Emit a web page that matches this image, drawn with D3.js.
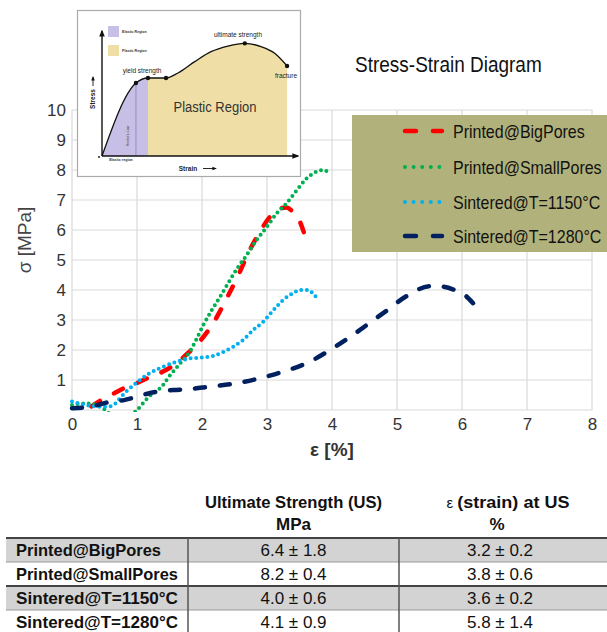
<!DOCTYPE html>
<html>
<head>
<meta charset="utf-8">
<script src="https://cdn.jsdelivr.net/npm/d3@7"></script>
<style>
  body { margin: 0; background: #fff; }
  text { font-family: "Liberation Sans", Arial, sans-serif; }
</style>
</head>
<body>
<div class="chart"></div>
<script>
// data: [strain %, stress MPa]
const seriesNames = ["Printed@BigPores", "Printed@SmallPores", "Sintered@T=1150°C", "Sintered@T=1280°C"];
const bigPores = [[0.3,0.12],[0.45,0.33],[0.6,0.5],[0.8,0.73],[1.0,0.9],[1.2,1.1],[1.4,1.28],[1.6,1.55],
  [1.76,1.85],[1.97,2.3],[2.17,2.89],[2.38,3.72],[2.56,4.5],[2.71,5.22],[2.89,5.94],[3.05,6.45],
  [3.2,6.72],[3.3,6.75],[3.4,6.6],[3.48,6.4],[3.6,5.7]];
const smallPores = [[0,0.17],[0.2,0.22],[0.35,0.18],[0.45,0.08],[0.52,0],[0.6,-0.15],[0.9,-0.15],[1.0,0],
  [1.09,0.22],[1.18,0.44],[1.29,0.61],[1.4,0.83],[1.49,1.11],[1.6,1.39],[1.7,1.65],[1.8,1.9],[1.9,2.3],
  [2.02,2.83],[2.15,3.33],[2.28,3.78],[2.43,4.33],[2.56,4.78],[2.69,5.17],[2.84,5.67],[3.0,6.11],
  [3.15,6.56],[3.3,6.89],[3.46,7.33],[3.61,7.72],[3.76,7.94],[3.87,8.0],[3.97,7.87]];
const sintered1150 = [[0,0.28],[0.15,0.2],[0.35,0.12],[0.52,0.11],[0.63,0.15],[0.72,0.35],[0.83,0.61],
  [0.98,0.89],[1.19,1.22],[1.4,1.44],[1.6,1.6],[1.82,1.72],[2.0,1.75],[2.17,1.8],[2.33,1.94],[2.48,2.11],
  [2.63,2.33],[2.79,2.67],[2.94,2.94],[3.1,3.33],[3.25,3.67],[3.4,3.89],[3.51,4.0],[3.63,4.0],
  [3.72,3.85],[3.79,3.67]];
const sintered1280 = [[0,0.06],[0.22,0.09],[0.4,0.17],[0.6,0.28],[0.8,0.33],[0.96,0.42],[1.19,0.56],
  [1.37,0.63],[1.6,0.67],[1.78,0.69],[2.12,0.78],[2.53,0.89],[2.89,1.06],[3.25,1.28],[3.61,1.56],
  [3.97,2.0],[4.28,2.44],[4.64,3.0],[4.82,3.28],[5.15,3.8],[5.51,4.13],[5.61,4.13],[5.89,4.0],
  [6.0,3.9],[6.17,3.56]];
const xTicks = [0, 1, 2, 3, 4, 5, 6, 7, 8];
const yTicks = [1, 2, 3, 4, 5, 6, 7, 8, 9, 10];

// table
const ultimateStrength = ["6.4 ± 1.8", "8.2 ± 0.4", "4.0 ± 0.6", "4.1 ± 0.9"];
const strainAtUS = ["3.2 ± 0.2", "3.8 ± 0.6", "3.6 ± 0.2", "5.8 ± 1.4"];

// inset sketch (arbitrary 0-100 units)
const insetCurve = [[0,0],[17.5,59.3],[23.7,63.4],[33,63.4],[39.2,67.5],[47.8,76.7],[56.2,84.8],
  [64.9,89.4],[73.6,91.6],[82,88.9],[89,83.5],[95.4,73.2]];
const insetDots = [[17.5,59.3],[23.7,63.4],[33,63.4],[73.6,91.6],[95.4,73.2]];
const yieldX = 23.7;

const allSeries = [bigPores, smallPores, sintered1150, sintered1280];
const styles = [
  { color: "#ff0000", dash: "10,16", legendDash: "11,17", width: 4.5 },
  { color: "#00b050", dash: "0,5.6", legendDash: "0,8.6", width: 4 },
  { color: "#00b0f0", dash: "0,5.6", legendDash: "0,8.6", width: 4 },
  { color: "#002060", dash: "10,15", legendDash: "11,17", width: 4.5 }
];

const svg = d3.select(".chart").append("svg")
  .attr("width", 607).attr("height", 632);

const x = d3.scaleLinear().domain([0, 8]).range([72, 592]);
const y = d3.scaleLinear().domain([0, 10]).range([410, 110]);

svg.append("defs").append("clipPath").attr("id", "plot")
  .append("rect").attr("x", x(0) - 6).attr("y", y(10)).attr("width", x(8) - x(0) + 6)
  .attr("height", y(0) - y(10) + 2);

// grid
svg.append("g").selectAll("line").data(xTicks).join("line")
  .attr("x1", d => x(d)).attr("x2", d => x(d))
  .attr("y1", y(10)).attr("y2", y(0))
  .attr("stroke", "#d9d9d9").attr("stroke-width", 1.2);
svg.append("g").selectAll("line").data([0].concat(yTicks)).join("line")
  .attr("x1", x(0)).attr("x2", x(8))
  .attr("y1", d => y(d)).attr("y2", d => y(d))
  .attr("stroke", "#d9d9d9").attr("stroke-width", 1.2);

// axes labels
const xAxis = svg.append("g").attr("transform", `translate(0,${y(0)})`)
  .call(d3.axisBottom(x).tickValues(xTicks).tickSize(0).tickPadding(8));
const yAxis = svg.append("g").attr("transform", `translate(${x(0)},0)`)
  .call(d3.axisLeft(y).tickValues(yTicks).tickSize(0).tickPadding(6));
[xAxis, yAxis].forEach(a => {
  a.select(".domain").remove();
  a.selectAll("text").attr("font-size", 17).attr("fill", "#333")
    .attr("font-family", '"Liberation Sans", Arial, sans-serif');
});

svg.append("text").attr("x", 332).attr("y", 456).attr("text-anchor", "middle")
  .attr("font-size", 19).attr("font-weight", "bold").attr("fill", "#333").text("ε [%]");
svg.append("text").attr("transform", "translate(31,240) rotate(-90)").attr("text-anchor", "middle")
  .attr("font-size", 19).attr("fill", "#444").text("σ [MPa]");

// curves
const line = d3.line().x(d => x(d[0])).y(d => y(d[1])).curve(d3.curveMonotoneX);
svg.append("g").attr("clip-path", "url(#plot)")
  .selectAll("path").data(allSeries).join("path")
  .attr("d", line)
  .attr("fill", "none")
  .attr("stroke", (d, i) => styles[i].color)
  .attr("stroke-width", (d, i) => styles[i].width)
  .attr("stroke-dasharray", (d, i) => styles[i].dash)
  .attr("stroke-linecap", "round");

// title (narrow-looking font: stretch vertically)
svg.append("text").attr("transform", "translate(355,72) scale(1,1.18)").attr("font-size", 19)
  .attr("fill", "#111").text("Stress-Strain Diagram");

// legend
const legend = svg.append("g");
legend.append("rect").attr("x", 352).attr("y", 115).attr("width", 255).attr("height", 137)
  .attr("fill", "#b1b27b");
const legendRows = [131, 167, 202, 236];
seriesNames.forEach((name, i) => {
  legend.append("line").attr("x1", 405).attr("x2", 442)
    .attr("y1", legendRows[i]).attr("y2", legendRows[i])
    .attr("stroke", styles[i].color).attr("stroke-width", styles[i].width)
    .attr("stroke-dasharray", styles[i].legendDash).attr("stroke-linecap", "round");
  legend.append("text").attr("transform", `translate(453,${legendRows[i] + 7}) scale(1,1.2)`)
    .attr("font-size", 16).attr("fill", "#111")
    .text(name);
});

// inset
const inset = svg.append("g");
inset.append("rect").attr("x", 77.5).attr("y", 10.5).attr("width", 223).attr("height", 166)
  .attr("fill", "#fff").attr("stroke", "#aaa").attr("stroke-width", 1.2);
const ix = d3.scaleLinear().domain([0, 100]).range([102, 296]);
const iy = d3.scaleLinear().domain([0, 100]).range([156, 33]);
const iArea = d3.area().x(d => ix(d[0])).y0(iy(0)).y1(d => iy(d[1])).curve(d3.curveMonotoneX);
const iLine = d3.line().x(d => ix(d[0])).y(d => iy(d[1])).curve(d3.curveMonotoneX);
inset.append("path").attr("d", iArea(insetCurve.filter(d => d[0] <= yieldX))).attr("fill", "#c7bfe6");
inset.append("path").attr("d", iArea(insetCurve.filter(d => d[0] >= yieldX))).attr("fill", "#efdfa6");
inset.append("line").attr("x1", ix(17.5)).attr("x2", ix(17.5)).attr("y1", iy(59.3)).attr("y2", iy(0))
  .attr("stroke", "#8d80b8").attr("stroke-width", 0.8);
inset.append("path").attr("d", iLine(insetCurve)).attr("fill", "none")
  .attr("stroke", "#111").attr("stroke-width", 1.3);
inset.selectAll("circle").data(insetDots).join("circle")
  .attr("cx", d => ix(d[0])).attr("cy", d => iy(d[1])).attr("r", 2.2).attr("fill", "#111");
inset.append("circle").attr("cx", 99).attr("cy", 157).attr("r", 0.9).attr("fill", "#111");

// inset axes with arrows
svg.select("defs").append("marker").attr("id", "arr").attr("viewBox", "0 0 10 10")
  .attr("refX", 8).attr("refY", 5).attr("markerWidth", 5).attr("markerHeight", 5)
  .attr("orient", "auto").append("path").attr("d", "M0,1L10,5L0,9Z").attr("fill", "#111");
inset.append("line").attr("x1", ix(0)).attr("x2", ix(0)).attr("y1", iy(0)).attr("y2", 31)
  .attr("stroke", "#111").attr("stroke-width", 1.4).attr("marker-end", "url(#arr)");
inset.append("line").attr("x1", ix(0)).attr("x2", 298).attr("y1", iy(0)).attr("y2", iy(0))
  .attr("stroke", "#111").attr("stroke-width", 1.4).attr("marker-end", "url(#arr)");

inset.append("rect").attr("x", 108).attr("y", 26).attr("width", 11).attr("height", 11).attr("fill", "#c7bfe6");
inset.append("rect").attr("x", 108).attr("y", 45).attr("width", 11).attr("height", 11).attr("fill", "#efdfa6");
inset.append("text").attr("x", 122).attr("y", 33).attr("font-size", 3.6).attr("font-weight", "bold")
  .attr("fill", "#333").text("Elastic Region");
inset.append("text").attr("x", 122).attr("y", 52).attr("font-size", 3.6).attr("font-weight", "bold")
  .attr("fill", "#333").text("Plastic Region");
inset.append("text").attr("transform", "translate(215,112) scale(1,1.18)").attr("text-anchor", "middle")
  .attr("font-size", 13).attr("fill", "#333").text("Plastic Region");
inset.append("text").attr("x", 142).attr("y", 72.5).attr("text-anchor", "middle").attr("font-size", 6.5)
  .attr("fill", "#222").text("yield strength");
inset.append("text").attr("x", 238).attr("y", 36.5).attr("text-anchor", "middle").attr("font-size", 6.5)
  .attr("fill", "#222").text("ultimate strength");
inset.append("text").attr("x", 286).attr("y", 78).attr("text-anchor", "middle").attr("font-size", 6.5)
  .attr("fill", "#222").text("fracture");
inset.append("text").attr("transform", "translate(129,136) rotate(-90)").attr("text-anchor", "middle")
  .attr("font-size", 3.6).attr("fill", "#333").text("Hooke's Law");
inset.append("text").attr("x", 121).attr("y", 161).attr("text-anchor", "middle").attr("font-size", 3.6)
  .attr("font-weight", "bold").attr("fill", "#333").text("Elastic region");
inset.append("text").attr("transform", "translate(95,99) rotate(-90)").attr("text-anchor", "middle")
  .attr("font-size", 6.5).attr("font-weight", "bold").attr("fill", "#222").text("Stress");
inset.append("line").attr("x1", 93).attr("x2", 93).attr("y1", 86).attr("y2", 77)
  .attr("stroke", "#111").attr("stroke-width", 0.9).attr("marker-end", "url(#arr)");
inset.append("text").attr("x", 188).attr("y", 170.5).attr("text-anchor", "middle").attr("font-size", 6.5)
  .attr("font-weight", "bold").attr("fill", "#222").text("Strain");
inset.append("line").attr("x1", 203).attr("x2", 216).attr("y1", 168.5).attr("y2", 168.5)
  .attr("stroke", "#111").attr("stroke-width", 0.9).attr("marker-end", "url(#arr)");

// table
const table = svg.append("g");
const colX = [6, 188, 399, 607];
const rowY = [538, 562, 586, 610, 636];
const colMid = [(colX[1] + colX[2]) / 2, (colX[2] + colX[3]) / 2];
table.append("text").attr("x", colMid[0]).attr("y", 508).attr("text-anchor", "middle")
  .attr("font-size", 17).attr("font-weight", "bold").attr("fill", "#111")
  .attr("textLength", 177).attr("lengthAdjust", "spacingAndGlyphs").text("Ultimate Strength (US)");
table.append("text").attr("x", colMid[0]).attr("y", 530).attr("text-anchor", "middle")
  .attr("font-size", 17).attr("font-weight", "bold").attr("fill", "#111").text("MPa");
const epsHead = table.append("text").attr("x", colMid[1] + 5).attr("y", 508).attr("text-anchor", "middle")
  .attr("font-size", 17).attr("font-weight", "bold").attr("fill", "#111")
  .attr("textLength", 123).attr("lengthAdjust", "spacingAndGlyphs");
epsHead.append("tspan").attr("font-weight", "normal").attr("font-size", 14).text("ε ");
epsHead.append("tspan").text("(strain) at US");
table.append("text").attr("x", colMid[1] - 6).attr("y", 530).attr("text-anchor", "middle")
  .attr("font-size", 17).attr("font-weight", "bold").attr("fill", "#111").text("%");

seriesNames.forEach((name, i) => {
  if (i % 2 === 0) {
    table.append("rect").attr("x", colX[0]).attr("y", rowY[i]).attr("width", colX[3] - colX[0])
      .attr("height", rowY[i + 1] - rowY[i]).attr("fill", "#d3d3d3");
  }
  const base = rowY[i] + 18;
  table.append("text").attr("x", 16).attr("y", base).attr("font-size", 17).attr("font-weight", "bold")
    .attr("fill", "#111").attr("textLength", i === 0 ? 145 : 162).attr("lengthAdjust", "spacingAndGlyphs")
    .text(name);
  table.append("text").attr("x", colMid[0]).attr("y", base).attr("text-anchor", "middle")
    .attr("font-size", 17).attr("fill", "#111").text(ultimateStrength[i]);
  table.append("text").attr("x", colMid[1] - 3).attr("y", base).attr("text-anchor", "middle")
    .attr("font-size", 17).attr("fill", "#111").text(strainAtUS[i]);
});
// row borders: thick at group tops, thin in between
rowY.slice(0, 4).forEach((ry, i) => {
  table.append("line").attr("x1", colX[0]).attr("x2", colX[3]).attr("y1", ry).attr("y2", ry)
    .attr("stroke", i % 2 === 0 ? "#444" : "#999").attr("stroke-width", i % 2 === 0 ? 2 : 1);
});
[colX[1], colX[2]].forEach(cx => {
  table.append("line").attr("x1", cx).attr("x2", cx).attr("y1", rowY[0]).attr("y2", 632)
    .attr("stroke", "#555").attr("stroke-width", 1.5);
});
</script>
</body>
</html>
